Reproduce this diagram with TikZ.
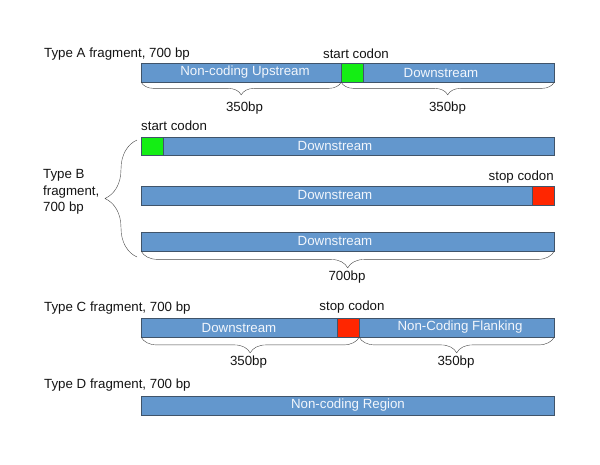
\documentclass[tikz,border=0pt]{standalone}
\usepackage{fontspec}
\setmainfont{Liberation Sans}
\usetikzlibrary{positioning,calc,decorations.pathreplacing}
\definecolor{barfill}{RGB}{99,151,205}
\definecolor{barbdr}{RGB}{64,84,106}
\definecolor{startclr}{RGB}{20,238,20}
\definecolor{stopclr}{RGB}{255,38,0}
\definecolor{bartext}{RGB}{242,246,252}
\definecolor{hdrclr}{RGB}{20,20,20}
\definecolor{brcclr}{RGB}{70,70,70}
\tikzset{
  %% sequence bar
  seqbar/.style={rectangle,draw=barbdr,fill=barfill,thin,
    minimum height=18.5pt,inner sep=0pt,anchor=north west},
  %% start / stop codon box
  codon/.style={rectangle,draw=barbdr,fill=#1,thin,
    minimum width=22pt,minimum height=18.5pt,inner sep=0pt,anchor=north west},
  %% text inside a bar
  bartxt/.style={font=\fontsize{13.3}{15}\selectfont,text=bartext,inner sep=0pt},
  %% plain labels
  lbl/.style={font=\fontsize{13.3}{16.5}\selectfont,text=hdrclr,inner sep=0pt},
  %% length braces
  brc/.style={decorate,decoration={brace,amplitude=#1},draw=brcclr,thin},
  mbrc/.style={decorate,decoration={brace,amplitude=#1,mirror},draw=brcclr,thin},
}

\begin{document}
\begin{tikzpicture}[x=1pt,y=-1pt]
  \useasboundingbox (0,0) rectangle (600,464);

  %% Type A
  \node[lbl,anchor=west] (typeA) at (44,54) {Type A fragment, 700 bp};
  \node[seqbar,minimum width=200pt] (upA) at (141,63) {};
  \node[seqbar,minimum width=213pt] (dnA) at (341,63) {};
  \node[codon=startclr] (startA) at (341,63) {};
  \node[bartxt] (upAt) at (245,72.5) {Non-coding Upstream};
  \node[bartxt] (dnAt) at (441,72.5) {Downstream};
  \node[lbl] (startAl) at (356,54) {start codon};
  \draw[mbrc=13] (upA.south west) -- (upA.south east);
  \draw[mbrc=13] (dnA.south west) -- (dnA.south east);
  \node[lbl] (lenA1) at (244.5,108) {350bp};
  \node[lbl] (lenA2) at (447.5,108) {350bp};

  %% Type B
  \node[lbl,anchor=west,align=left] (typeB) at (43,192) {Type B\\fragment,\\700 bp};
  \node[seqbar,minimum width=413pt] (dnB1) at (141,136.5) {};
  \node[codon=startclr] (startB) at (141,136.5) {};
  \node[bartxt] (dnB1t) at (335,145.5) {Downstream};
  \node[lbl,anchor=west] (startBl) at (141,126) {start codon};
  \node[seqbar,minimum width=413pt] (dnB2) at (141,186) {};
  \node[codon=stopclr] (stopB) at (532,186) {};
  \node[bartxt] (dnB2t) at (335,195) {Downstream};
  \node[lbl,anchor=east] (stopBl) at (554,177) {stop codon};
  \node[seqbar,minimum width=413pt] (dnB3) at (141,232) {};
  \node[bartxt] (dnB3t) at (335,241) {Downstream};
  \coordinate (lbTop) at (137,140);
  \coordinate (lbBot) at (137,257);
  \draw[brc=32] (lbBot) -- (lbTop);
  \draw[mbrc=17] (dnB3.south west) -- (dnB3.south east);
  \node[lbl] (lenB) at (347,277) {700bp};

  %% Type C
  \node[lbl,anchor=west] (typeC) at (44,308) {Type C fragment, 700 bp};
  \node[seqbar,minimum width=218pt] (dnC) at (141,318) {};
  \node[seqbar,minimum width=195pt] (flC) at (359,318) {};
  \node[codon=stopclr] (stopC) at (337,318) {};
  \node[bartxt] (dnCt) at (239,327.5) {Downstream};
  \node[bartxt] (flCt) at (460,327.5) {Non-Coding Flanking};
  \node[lbl] (stopCl) at (352,307) {stop codon};
  \draw[mbrc=16] (dnC.south west) -- (dnC.south east);
  \draw[mbrc=16] (flC.south west) -- (flC.south east);
  \node[lbl] (lenC1) at (248.5,362) {350bp};
  \node[lbl] (lenC2) at (456,362) {350bp};

  %% Type D
  \node[lbl,anchor=west] (typeD) at (44,385) {Type D fragment, 700 bp};
  \node[seqbar,minimum width=413pt] (ncD) at (141,396) {};
  \node[bartxt] (ncDt) at (348,405) {Non-coding Region};
\end{tikzpicture}
\end{document}
